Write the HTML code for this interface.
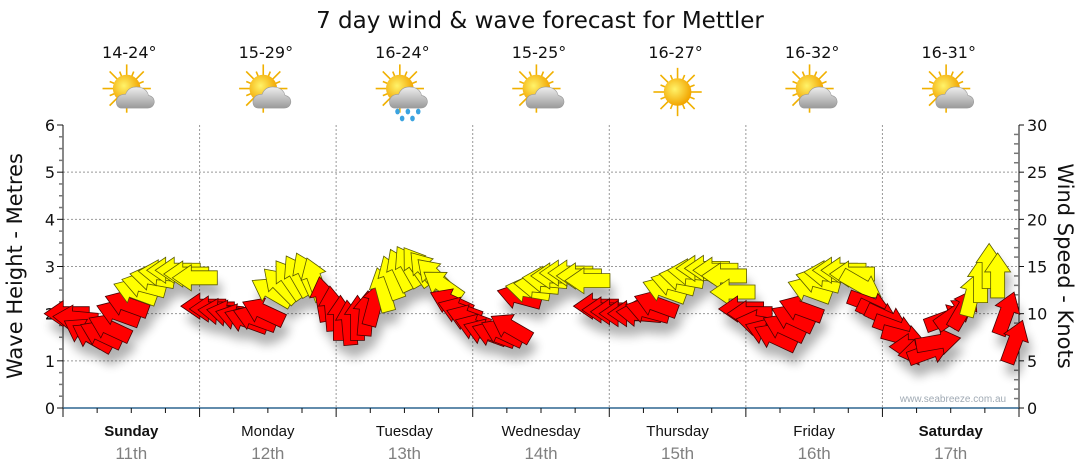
<!DOCTYPE html>
<html><head><meta charset="utf-8">
<style>
body{margin:0;background:#fff;}
svg{display:block;font-family:"DejaVu Sans","Liberation Sans",sans-serif;}
</style></head>
<body>
<svg id="chart" width="1080" height="475" viewBox="0 0 1080 475">
<defs>
<filter id="shadow" x="-50%" y="-50%" width="200%" height="200%">
<feGaussianBlur stdDeviation="5"/>
</filter>
<radialGradient id="sunG" cx="0.4" cy="0.4" r="0.6"><stop offset="0" stop-color="#fff36a"/><stop offset="1" stop-color="#f2a500"/></radialGradient>
<linearGradient id="cloudG" x1="0" y1="0" x2="0" y2="1"><stop offset="0" stop-color="#eeeeee"/><stop offset="1" stop-color="#9a9a9a"/></linearGradient>
</defs>
<text x="540" y="28" font-size="23" text-anchor="middle" fill="#111">7 day wind &amp; wave forecast for Mettler</text>
<g id="grid"></g>
<g id="axes"></g>
<g id="icons"></g>
<g id="shadows" filter="url(#shadow)" opacity="0.3"></g>
<g id="arrows"></g>
<text x="953" y="402" font-size="10" fill="#a0aab4" text-anchor="middle" font-family="Liberation Sans, sans-serif">www.seabreeze.com.au</text>
<text transform="translate(22,266) rotate(-90)" font-size="21" text-anchor="middle" fill="#111">Wave Height - Metres</text>
<text transform="translate(1058,266) rotate(90)" font-size="21" text-anchor="middle" fill="#111">Wind Speed - Knots</text>
</svg>
<script>
const days = ["Sunday","Monday","Tuesday","Wednesday","Thursday","Friday","Saturday"];
const dates = ["11th","12th","13th","14th","15th","16th","17th"];
const temps = ["14-24°","15-29°","16-24°","15-25°","16-27°","16-32°","16-31°"];
const weather = ["cloud","cloud","rain","cloud","sun","cloud","cloud"];
const leftTicks = [0,1,2,3,4,5,6];
const rightTicks = [0,5,10,15,20,25,30];
const windKnots = [
 10,9.5,8,7.5,7.8,8.5,10,11,12.3,13,13.8,14.3,14.6,14.6,14.2,13.8,
 10.8,10.5,10.2,10,9.6,9.3,9.5,10.2,12.3,13,13.6,14,14.2,13.6,11.5,10.5,
 9.5,9,9.5,10,11,12.5,13.8,14.6,15,15,14.6,14,13,11.2,10.3,9.5,
 8.5,8,7.8,8,8.5,11.8,12.5,13,13.6,14,14.3,14.3,14,13.5,10.8,10.4,
 10.2,10,10,10,10.3,11,12.5,13.2,13.8,14.4,14.8,14.8,14.6,14,12.3,10.5,
 10,9,8,7.5,8.5,9.5,10.5,12.5,13.5,14.2,14.6,14.6,14.2,13,11,10,
 9.5,8.5,7.5,6.5,6,6,7,9.5,10,10.5,12,13.5,15,14,10,7
];
const windDir = [
 180,175,150,150,155,155,160,160,160,165,170,175,180,180,180,180,
 180,180,175,170,165,160,160,155,150,135,125,120,115,110,100,95,
 90,95,90,85,75,105,110,115,120,125,130,135,145,155,160,160,
 160,160,160,155,150,165,170,175,175,180,180,180,180,180,180,180,
 180,180,180,175,165,160,160,165,170,175,180,180,180,180,180,180,
 180,170,160,155,155,155,160,160,165,175,180,180,180,-30,-20,-25,
 -25,-20,-15,180,190,20,10,20,35,60,75,90,90,90,70,70
];
const NS="http://www.w3.org/2000/svg";
const X0=63,X1=1019,Y0=408,Y1=125;
const xT=i=>X0+(X1-X0)*(i+0.5)/windKnots.length;
const yM=m=>Y0-(Y0-Y1)*m/6;
const yK=k=>Y0-(Y0-Y1)*k/30;
const dayW=(X1-X0)/7;
function el(tag,attrs,parent,txt){const e=document.createElementNS(NS,tag);for(const k in attrs)e.setAttribute(k,attrs[k]);if(txt!==undefined)e.textContent=txt;parent.appendChild(e);return e;}
const grid=document.getElementById('grid'),axes=document.getElementById('axes'),icons=document.getElementById('icons');
leftTicks.forEach(v=>{if(v>0&&v<6){const g=el('line',{x1:X0,x2:X1,y1:yM(v),y2:yM(v),stroke:'#999','stroke-dasharray':'2,2','stroke-width':1},grid);

}});
for(let d=1;d<7;d++){const g=el('line',{x1:X0+d*dayW,x2:X0+d*dayW,y1:Y1,y2:Y0,stroke:'#999','stroke-dasharray':'2,2'},grid);

}
el('line',{x1:X0,x2:X0,y1:Y1,y2:Y0+8,stroke:'#111'},axes);
for(let m=0;m<=24;m++){const y=Y0-(Y0-Y1)*m/24;el('line',{x1:X0-(m%4?4:6),x2:X0,y1:y,y2:y,stroke:m%4?'#777':'#111','stroke-width':m%4?1.5:1},axes);}
leftTicks.forEach(v=>{const t=el('text',{x:X0-8,y:yM(v)+6,'font-size':16,'text-anchor':'end',fill:'#111'},axes,String(v));

});
el('line',{x1:X1,x2:X1,y1:Y1,y2:Y0+3,stroke:'#111'},axes);
for(let k=0;k<=30;k++){const y=yK(k);el('line',{x1:X1-(k%5?5:0),x2:X1+(k%5?0:5),y1:y,y2:y,stroke:k%5?'#777':'#111','stroke-width':k%5?1.5:1},axes);}
rightTicks.forEach(v=>{const t=el('text',{x:X1+8,y:yK(v)+6,'font-size':16,fill:'#111'},axes,String(v));

});
el('line',{x1:X0,x2:X1,y1:Y0,y2:Y0,stroke:'#2f6690','stroke-width':1.5},axes);
for(let q=0;q<=28;q++){const x=X0+q*dayW/4;el('line',{x1:x,x2:x,y1:Y0,y2:Y0+(q%4?5:9),stroke:'#111'},axes);}
days.forEach((d,i)=>{const cx=X0+(i+0.5)*dayW;const bold=(i==0||i==6);
const t=el('text',{x:cx,y:436,'font-size':15,'text-anchor':'middle',fill:'#111','font-weight':bold?'bold':'normal','font-family':'Liberation Sans, sans-serif'},axes,d);


const t2=el('text',{x:cx,y:459,'font-size':17,'text-anchor':'middle',fill:'#808080','font-family':'Liberation Sans, sans-serif'},axes,dates[i]);


const t3=el('text',{x:cx-2,y:58,'font-size':16,'text-anchor':'middle',fill:'#111'},icons,temps[i]);


const g=el('g',{transform:`translate(${cx},92) scale(1.15)`},icons);


const sx=weather[i]=='sun'?0:-4, sy=weather[i]=='sun'?0:-3;
for(let r=0;r<16;r++){const a=r*Math.PI/8;const L=r%2?16:21;el('line',{x1:sx+Math.cos(a)*10,y1:sy+Math.sin(a)*10,x2:sx+Math.cos(a)*L,y2:sy+Math.sin(a)*L,stroke:'#f0b000','stroke-width':1.4},g);}
el('circle',{cx:sx,cy:sy,r:12,fill:'url(#sunG)'},g);
if(weather[i]!='sun'){el('path',{d:'M-8,14 Q-13,14 -13,8 Q-12,2 -5,2 Q-2,-6 8,-4 Q14,-2 15,3 Q20,4 20,9 Q19,14 14,14 Z',fill:'url(#cloudG)',stroke:'#999','stroke-width':0.5},g);}
if(weather[i]=='rain'){[[-6,17],[3,17],[12,17],[-2,23],[7,23]].forEach(p=>el('ellipse',{cx:p[0],cy:p[1],rx:2,ry:2.5,fill:'#3aa3e0'},g));}
});
const shadows=document.getElementById('shadows'),arrows=document.getElementById('arrows');
const arrowPts="23,0 4,-13 4,-7 -22,-7 -22,7 4,7 4,13";
windKnots.forEach((k,i)=>{const x=xT(i),y=yK(k);const rot=-windDir[i];
const s=el('polygon',{points:arrowPts,transform:`translate(${x+4},${y+12}) rotate(${rot})`,fill:'#000'},shadows);


const yel=k>=12;
const a=el('polygon',{points:arrowPts,transform:`translate(${x},${y}) rotate(${rot})`,fill:yel?'#ffff00':'#ff0000',stroke:yel?'#5a5a00':'#4a0000','stroke-width':0.8},arrows);


});
</script>
</body></html>
